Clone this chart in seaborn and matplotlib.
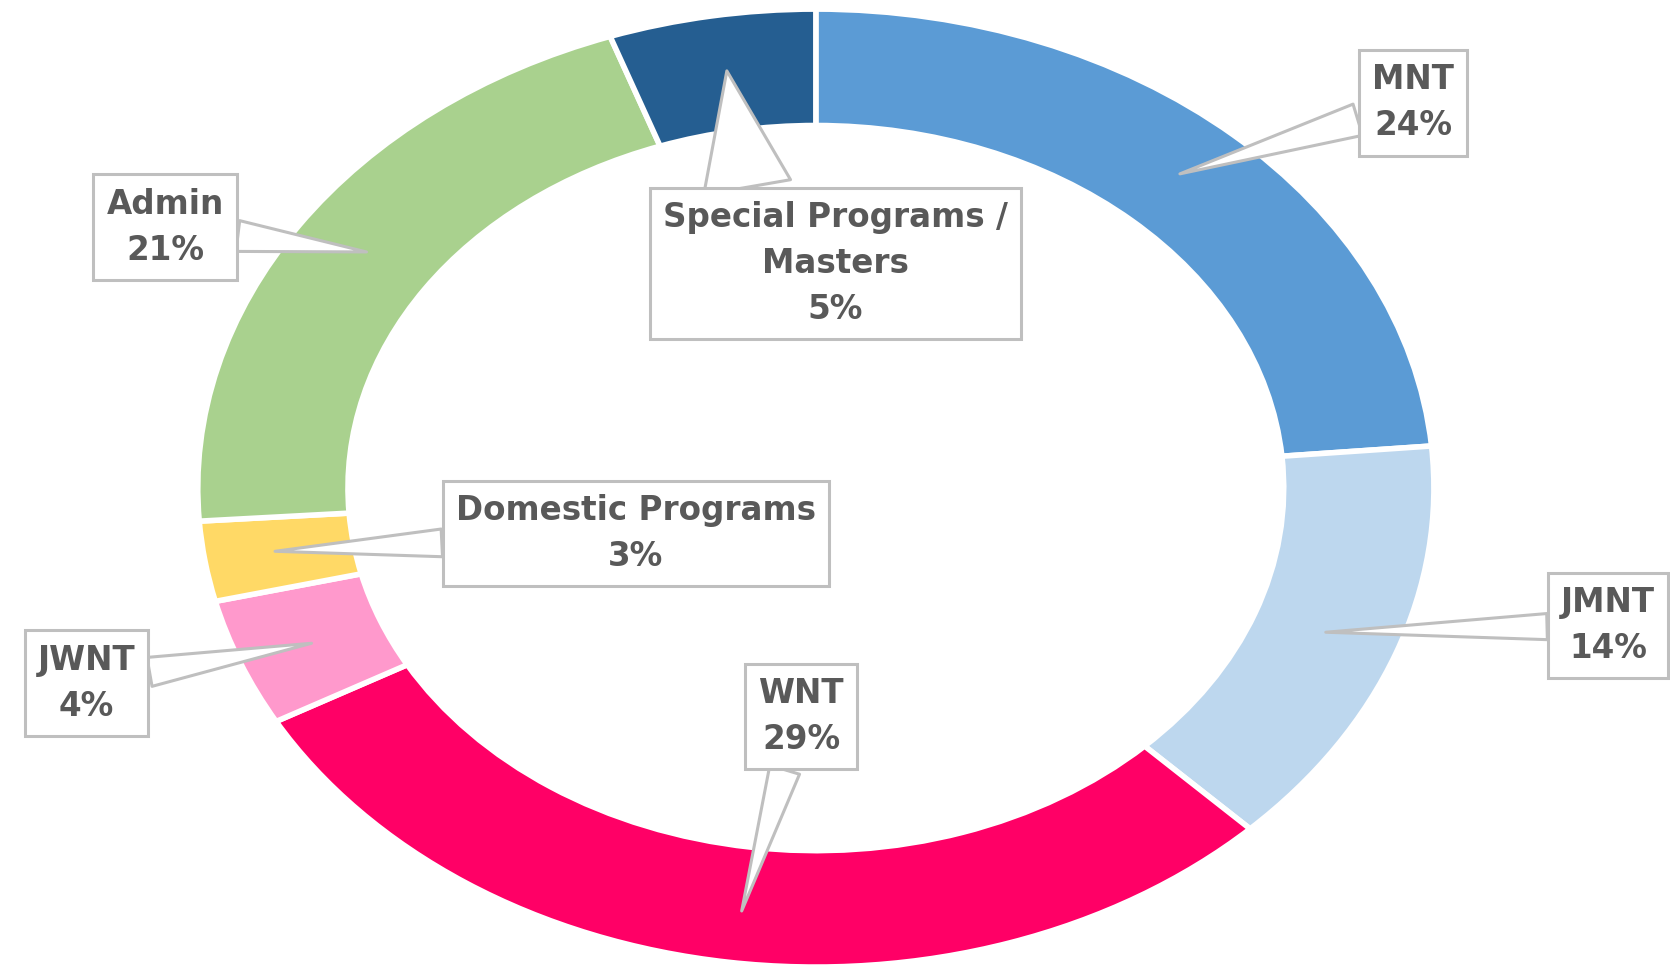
import matplotlib
matplotlib.use("Agg")
import matplotlib.pyplot as plt
import seaborn as sns

# ---- data ----
categories = ["MNT", "JMNT", "WNT", "JWNT", "Domestic Programs", "Admin", "Special Programs /\nMasters"]
values = [23.6, 14.0, 29.3, 4.3, 2.7, 20.7, 5.4]
colors = ["#5B9BD5", "#BDD7EE", "#FF0066", "#FF99CC", "#FFD966", "#A9D18E", "#255E91"]

# label box centres and leader tips (layout, data coords)
label_pos = [(0.966, 0.804), (1.282, -0.286), (-0.024, -0.476), (-1.180, -0.407),
             (-0.291, -0.094), (-1.053, 0.545), (0.032, 0.468)]
tip_pos = [(0.589, 0.656), (0.825, -0.301), (-0.120, -0.883), (-0.816, -0.324),
           (-0.875, -0.132), (-0.727, 0.493), (-0.144, 0.871)]
tail_widths = [1.0, 0.8, 0.95, 0.9, 0.85, 0.95, 2.7]
rel_pos = [(0.5, 0.5), (0.5, 0.5), (0.5, 0.5), (0.5, 0.5), (0.5, 0.5), (0.5, 0.5), (0.26, 0.85)]

sns.set_theme(style="white")
plt.rcParams['font.family'] = ['DejaVu Sans']

fig = plt.figure(figsize=(16.7, 9.68), dpi=100)
ax = fig.add_axes([0, 0, 1, 1])

total = sum(values)
ax.pie(values, colors=colors, startangle=90, counterclock=False, radius=1.0,
       wedgeprops=dict(width=0.243, edgecolor="white", linewidth=4))
ax.set_aspect("auto")
ax.set_xlim(-1.320, 1.382)
ax.set_ylim(-1.002, 1.019)
ax.axis("off")

for cat, v, (lx, ly), (tx, ty), tw, rp in zip(categories, values, label_pos, tip_pos,
                                              tail_widths, rel_pos):
    pct = round(v / total * 100)
    ax.annotate(f"{cat}\n{pct}%", xy=(tx, ty), xytext=(lx, ly),
                ha="center", va="center", fontsize=23.5, fontweight="bold",
                color="#595959", linespacing=1.5,
                bbox=dict(boxstyle="square,pad=0.4", fc="white", ec="#BFBFBF", lw=2.2),
                arrowprops=dict(arrowstyle=f"wedge,tail_width={tw},shrink_factor=0.5",
                                fc="white", ec="#BFBFBF", lw=2.2, relpos=rp,
                                connectionstyle="arc3", shrinkA=0, shrinkB=0),
                zorder=5)

fig.savefig("out.png", dpi=100, facecolor="white")
